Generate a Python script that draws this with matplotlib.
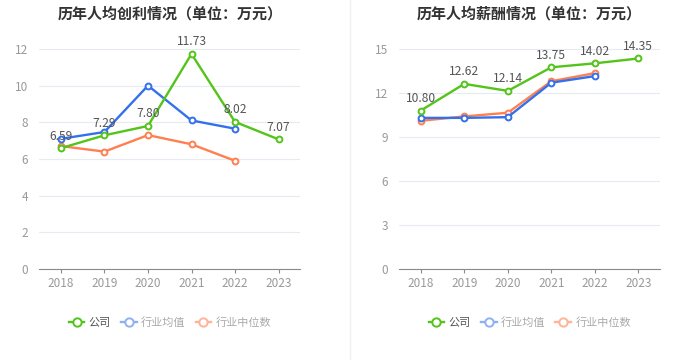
import matplotlib
matplotlib.use("Agg")
import matplotlib.pyplot as plt
from matplotlib.lines import Line2D

plt.rcParams['font.family'] = ['Noto Sans CJK SC', 'DejaVu Sans']

years = ['2018', '2019', '2020', '2021', '2022', '2023']

profit_company = [6.59, 7.29, 7.80, 11.73, 8.02, 7.07]
profit_avg = [7.1, 7.47, 10.0, 8.1, 7.65]
profit_median = [6.7, 6.4, 7.3, 6.8, 5.9]

salary_company = [10.80, 12.62, 12.14, 13.75, 14.02, 14.35]
salary_avg = [10.3, 10.3, 10.35, 12.7, 13.15]
salary_median = [10.1, 10.4, 10.65, 12.8, 13.35]

titles = ['历年人均创利情况（单位：万元）', '历年人均薪酬情况（单位：万元）']
legend_labels = ['公司', '行业均值', '行业中位数']

GREEN = '#52c41a'
BLUE = '#3370eb'
ORANGE = '#ff7f50'

fig = plt.figure(figsize=(7, 3.6), dpi=100)

def draw(ax, comp, avg, med, ymax, ystep, title):
    x = list(range(len(years)))
    for vals, c, z in [(med, ORANGE, 2), (avg, BLUE, 3), (comp, GREEN, 4)]:
        ax.plot(x[:len(vals)], vals, color=c, lw=1.7, marker='o', ms=4.2,
                mfc='white', mec=c, mew=1.4, zorder=z, clip_on=False)
    for xi, v in zip(x, comp):
        ax.annotate(f'{v:.2f}', (xi, v), xytext=(0, 4), textcoords='offset points',
                    ha='center', va='bottom', fontsize=8.7, color='#555555', zorder=6)
    ax.set_xlim(-0.5, len(years) - 0.5)
    ax.set_ylim(0, ymax)
    ticks = [ystep * i for i in range(int(ymax / ystep) + 1)]
    ax.set_yticks(ticks)
    ax.set_yticklabels([str(int(t)) for t in ticks])
    ax.set_xticks(x)
    ax.set_xticklabels(years)
    ax.grid(axis='y', color='#e6eaf2', lw=0.8)
    ax.set_axisbelow(True)
    for s in ['top', 'right', 'left']:
        ax.spines[s].set_visible(False)
    ax.spines['bottom'].set_color('#8a8a8a')
    ax.tick_params(axis='y', length=0, labelcolor='#999999', labelsize=8.5, pad=8)
    ax.tick_params(axis='x', length=3, color='#8a8a8a', labelcolor='#999999', labelsize=8.5, pad=3)
    ax.set_title(title, fontsize=10.8, fontweight='bold', color='#333333', pad=22)

ax1 = fig.add_axes([0.056, 0.253, 0.373, 0.611])
draw(ax1, profit_company, profit_avg, profit_median, 12, 2, titles[0])
ax2 = fig.add_axes([0.570, 0.253, 0.373, 0.611])
draw(ax2, salary_company, salary_avg, salary_median, 15, 3, titles[1])

# separator
fig.add_artist(Line2D([0.5, 0.5], [0.0, 1.0], color='#f0f0f0', lw=1))

def legend(ax, xc):
    handles = [
        Line2D([], [], color=GREEN, lw=1.7, marker='o', ms=6, mfc='white', mec=GREEN, mew=1.4),
        Line2D([], [], color='#8fb0f3', lw=1.7, marker='o', ms=6, mfc='white', mec='#8fb0f3', mew=1.4),
        Line2D([], [], color='#ffb39a', lw=1.7, marker='o', ms=6, mfc='white', mec='#ffb39a', mew=1.4),
    ]
    leg = fig.legend(handles, legend_labels, loc='center', bbox_to_anchor=(xc, 0.105),
                     ncol=3, frameon=False, fontsize=8, handlelength=1.4,
                     handletextpad=0.4, columnspacing=0.9)
    cols = ['#555555', '#aaaaaa', '#aaaaaa']
    for t, c in zip(leg.get_texts(), cols):
        t.set_color(c)

legend(ax1, 0.243)
legend(ax2, 0.757)

fig.savefig('out.png', dpi=100, facecolor='white')
